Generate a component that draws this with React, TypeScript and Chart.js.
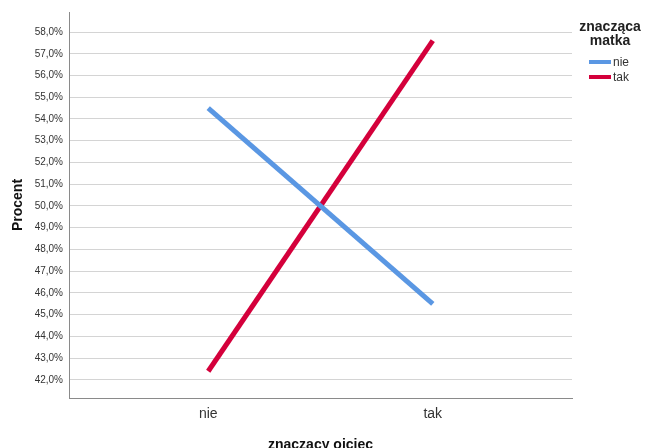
import { useEffect, useRef } from 'react';
import { Chart, registerables } from 'chart.js';

Chart.register(...registerables);

// Father's significance (x axis categories)
const fatherCategories = ['nie', 'tak'];
// Mother's significance (series)
const motherGroups = ['nie', 'tak'];
// Percent values per series, one per father category
const percentMotherNie = [54.5, 45.5];
const percentMotherTak = [42.4, 57.6];
// Y tick values (percent)
const yTickValues = [42, 43, 44, 45, 46, 47, 48, 49, 50, 51, 52, 53, 54, 55, 56, 57, 58];

const seriesColors = ['#5A97E3', '#D4003B'];
const legendTitleLines = ['znacząca', 'matka'];
const xTitle = 'znaczacy ojciec';
const yTitle = 'Procent';

const FONT = "'Liberation Sans', Arial, Helvetica, sans-serif";

const legendPlugin = {
  id: 'sideLegend',
  afterDraw(chart: any) {
    const ctx = chart.ctx;
    ctx.save();
    ctx.fillStyle = '#222';
    ctx.font = `bold 14px ${FONT}`;
    ctx.textAlign = 'center';
    ctx.textBaseline = 'middle';
    legendTitleLines.forEach((line, i) => ctx.fillText(line, 610, 27 + i * 14));
    ctx.font = `12px ${FONT}`;
    ctx.textAlign = 'left';
    chart.data.datasets.forEach((ds: any, i: number) => {
      const y = 62 + i * 15;
      ctx.strokeStyle = ds.borderColor;
      ctx.lineWidth = 4;
      ctx.beginPath();
      ctx.moveTo(589, y);
      ctx.lineTo(611, y);
      ctx.stroke();
      ctx.fillStyle = '#333';
      ctx.fillText(ds.label, 613, y + 1);
    });
    ctx.restore();
  },
};

const whiteBg = {
  id: 'whiteBg',
  beforeDraw(chart: any) {
    const ctx = chart.ctx;
    ctx.save();
    ctx.fillStyle = '#fff';
    ctx.fillRect(0, 0, chart.width, chart.height);
    ctx.restore();
  },
};

export default function App() {
  const ref = useRef<HTMLCanvasElement>(null);

  useEffect(() => {
    if (!ref.current) return;
    Chart.defaults.font.family = FONT;
    const series = [percentMotherNie, percentMotherTak];
    const chart = new Chart(ref.current, {
      type: 'line',
      data: {
        datasets: motherGroups.map((g, i) => ({
          label: g,
          data: series[i].map((v, j) => ({ x: j + 1, y: v })),
          borderColor: seriesColors[i],
          backgroundColor: seriesColors[i],
          borderWidth: 5,
          pointRadius: 0,
          tension: 0,
        })),
      },
      options: {
        responsive: false,
        animation: false,
        layout: { padding: { left: 0, top: 12, right: 73, bottom: 0 } },
        plugins: {
          legend: { display: false },
          tooltip: { enabled: false },
        },
        scales: {
          x: {
            type: 'linear',
            min: 0.38,
            max: 2.62,
            afterBuildTicks: (scale: any) => {
              scale.ticks = fatherCategories.map((_, i) => ({ value: i + 1 }));
            },
            afterFit: (scale: any) => {
              scale.height = 50;
            },
            grid: { display: false, drawTicks: false },
            border: { display: true, color: '#8a8a8a', width: 1 },
            ticks: {
              padding: 8,
              maxRotation: 0,
              autoSkip: false,
              color: '#333',
              font: { size: 14 },
              callback: (v: any) => fatherCategories[Math.round(v) - 1] ?? '',
            },
            title: {
              display: true,
              text: xTitle,
              color: '#111',
              font: { size: 14, weight: 'bold' },
              padding: { top: 0, bottom: -6 },
            },
          },
          y: {
            type: 'linear',
            min: 41.17,
            max: 58.92,
            afterBuildTicks: (scale: any) => {
              scale.ticks = yTickValues.map((v) => ({ value: v }));
            },
            afterFit: (scale: any) => {
              scale.width = 69;
            },
            grid: { color: '#d4d4d4', lineWidth: 1, drawTicks: false },
            border: { display: true, color: '#8a8a8a', width: 1 },
            ticks: {
              padding: 6,
              color: '#333',
              font: { size: 10 },
              callback: (v: any) => Number(v).toFixed(1).replace('.', ',') + '%',
            },
            title: {
              display: true,
              text: yTitle,
              color: '#111',
              font: { size: 14, weight: 'bold' },
              padding: { top: 10, bottom: 0 },
            },
          },
        },
      },
      plugins: [whiteBg, legendPlugin],
    } as any);
    return () => chart.destroy();
  }, []);

  return (
    <div style={{ position: 'fixed', left: 0, top: 0, width: 645, height: 448, background: '#fff' }}>
      <canvas ref={ref} width={645} height={448} style={{ display: 'block' }} />
    </div>
  );
}
